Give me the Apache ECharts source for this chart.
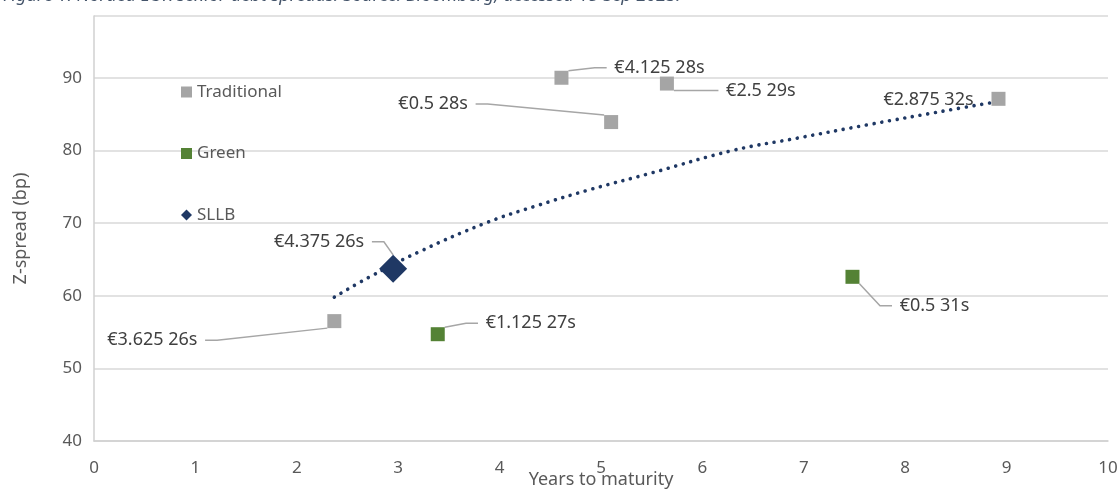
<!DOCTYPE html>
<html>
<head>
<meta charset="utf-8">
<script src="https://cdn.jsdelivr.net/npm/echarts@6/dist/echarts.min.js"></script>
<style>
html,body{margin:0;padding:0;background:#fff;}
#chart{width:1119px;height:489px;}
</style>
</head>
<body>
<div id="chart"></div>
<script>
// ---- data ----
const tradNames = ['€4.125 28s', '€2.5 29s', '€0.5 28s', '€2.875 32s', '€3.625 26s'];
const tradX = [4.61, 5.65, 5.10, 8.92, 2.37];
const tradY = [90.0, 89.2, 83.9, 87.1, 56.5];

const greenNames = ['€1.125 27s', '€0.5 31s'];
const greenX = [3.39, 7.48];
const greenY = [54.7, 62.6];

const sllbNames = ['€4.375 26s'];
const sllbX = [2.95];
const sllbY = [63.7];

// trendline points
const trendX = [2.37, 2.72, 3.20, 3.86, 4.37, 4.89, 5.50, 6.30, 6.94, 7.62, 8.41, 8.86];
const trendY = [59.8, 62.6, 66.0, 70.0, 72.4, 74.6, 76.9, 80.0, 81.7, 83.5, 85.5, 86.6];

const xTicks = [0, 1, 2, 3, 4, 5, 6, 7, 8, 9, 10];
const yTicks = [40, 50, 60, 70, 80, 90];

// ---- label placement (pixel offsets, styling only) ----
const tradLabelOffsets = [[98, -10], [94, 7], [-178, -18], [-70, 1], [-182, 19]];
const greenLabelOffsets = [[93, -11], [82, 29]];
const sllbLabelOffsets = [[-74, -27]];
const noLeader = {'€2.875 32s': true};

function pts(names, xs, ys) {
  return names.map((n, i) => {
    const d = {name: n, value: [xs[i], ys[i]]};
    if (noLeader[n]) d.labelLine = {show: false};
    return d;
  });
}

const gap = '\u00a0\u2009';
const labelStyle = {
  show: true,
  position: 'inside',
  formatter: p => gap + p.name + gap,
  color: '#404040',
  fontSize: 18,
  fontFamily: 'Noto Sans'
};
const leader = {
  show: true,
  length2: 12,
  lineStyle: {color: '#a6a6a6', width: 1.5}
};

const chart = echarts.init(document.getElementById('chart'), null, {renderer: 'canvas'});
chart.setOption({
  animation: false,
  backgroundColor: '#ffffff',
  title: {
    text: 'Figure 1: Nordea EUR senior debt spreads. Source: Bloomberg, accessed 15 Sep 2023.',
    left: -2,
    top: -18,
    textStyle: {color: '#44546a', fontSize: 18, fontStyle: 'italic', fontWeight: 'normal', fontFamily: 'Noto Sans'}
  },
  grid: {left: 94, right: 11, top: 16, bottom: 48, containLabel: false, outerBoundsMode: 'none'},
  legend: {
    data: ['Traditional', 'Green', 'SLLB'],
    orient: 'vertical',
    left: 176,
    top: 77,
    itemWidth: 11,
    itemHeight: 11,
    itemGap: 41.5,
    textStyle: {color: '#595959', fontSize: 17, fontFamily: 'Noto Sans', lineHeight: 20}
  },
  xAxis: {
    type: 'value',
    min: xTicks[0],
    max: xTicks[xTicks.length - 1],
    interval: 1,
    name: 'Years to maturity',
    nameLocation: 'middle',
    nameGap: 30,
    nameMoveOverlap: false,
    nameTextStyle: {color: '#595959', fontSize: 18, fontFamily: 'Noto Sans'},
    axisLine: {show: true, lineStyle: {color: '#d0d0d0', width: 1.5}},
    axisTick: {show: false},
    splitLine: {show: false},
    axisLabel: {color: '#595959', fontSize: 17, fontFamily: 'Noto Sans', margin: 19}
  },
  yAxis: {
    type: 'value',
    min: yTicks[0],
    max: 98.5,
    interval: 10,
    name: 'Z-spread (bp)',
    nameLocation: 'middle',
    nameGap: 64,
    nameMoveOverlap: false,
    nameTextStyle: {color: '#595959', fontSize: 18, fontFamily: 'Noto Sans'},
    axisLine: {show: true, lineStyle: {color: '#d0d0d0', width: 1.5}},
    axisTick: {show: false},
    splitLine: {show: true, lineStyle: {color: '#d9d9d9', width: 1.5}},
    axisLabel: {
      color: '#595959', fontSize: 17, fontFamily: 'Noto Sans', margin: 12,
      formatter: v => (yTicks.indexOf(v) >= 0 ? String(v) : '')
    }
  },
  series: [
    {
      name: 'Trend',
      type: 'line',
      data: trendX.map((x, i) => [x, trendY[i]]),
      showSymbol: false,
      smooth: 0.4,
      silent: true,
      z: 1,
      lineStyle: {color: '#1f3864', width: 3.6, type: [0.01, 7.8], cap: 'round', opacity: 1}
    },
    {
      name: 'Traditional',
      type: 'scatter',
      symbol: 'rect',
      symbolSize: 14,
      z: 3,
      itemStyle: {color: '#a5a5a5', opacity: 1},
      data: pts(tradNames, tradX, tradY),
      label: labelStyle,
      labelLine: leader,
      labelLayout: p => ({dx: tradLabelOffsets[p.dataIndex][0], dy: tradLabelOffsets[p.dataIndex][1]})
    },
    {
      name: 'Green',
      type: 'scatter',
      symbol: 'rect',
      symbolSize: 14,
      z: 3,
      itemStyle: {color: '#548235', opacity: 1},
      data: pts(greenNames, greenX, greenY),
      label: labelStyle,
      labelLine: leader,
      labelLayout: p => ({dx: greenLabelOffsets[p.dataIndex][0], dy: greenLabelOffsets[p.dataIndex][1]})
    },
    {
      name: 'SLLB',
      type: 'scatter',
      symbol: 'diamond',
      symbolSize: 28,
      z: 3,
      itemStyle: {color: '#1f3864', opacity: 1},
      data: pts(sllbNames, sllbX, sllbY),
      label: labelStyle,
      labelLine: leader,
      labelLayout: p => ({dx: sllbLabelOffsets[p.dataIndex][0], dy: sllbLabelOffsets[p.dataIndex][1]})
    }
  ]
});
</script>
</body>
</html>
